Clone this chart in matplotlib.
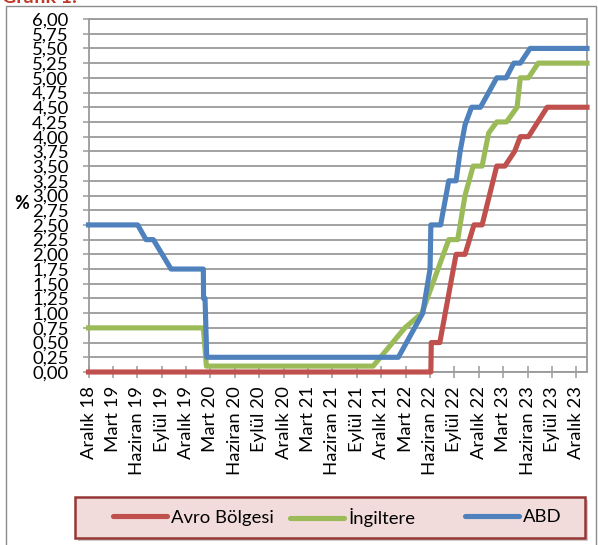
import matplotlib
matplotlib.use("Agg")
import matplotlib.pyplot as plt
from matplotlib.lines import Line2D
from matplotlib.patches import Rectangle

plt.rcParams['font.family'] = ['Lato', 'DejaVu Sans']

# x = ay sayisi (0 = Aralik 2018)
ay_etiket = ["Aralık 18", "Mart 19", "Haziran 19", "Eylül 19", "Aralık 19",
             "Mart 20", "Haziran 20", "Eylül 20", "Aralık 20", "Mart 21",
             "Haziran 21", "Eylül 21", "Aralık 21", "Mart 22", "Haziran 22",
             "Eylül 22", "Aralık 22", "Mart 23", "Haziran 23", "Eylül 23",
             "Aralık 23"]

avro_x = [0, 42.1, 42.15, 43.2, 45.2, 46.3, 47.4, 48.4, 50.2, 51.2, 52.4,
          53.1, 54.1, 56.4, 61.3]
avro_y = [0, 0, 0.5, 0.5, 2.0, 2.0, 2.5, 2.5, 3.5, 3.5, 3.75,
          4.0, 4.0, 4.5, 4.5]

ing_x = [0, 14.12, 14.5, 35.0, 38.9, 41.0, 44.3, 45.4, 46.3, 47.3, 48.4,
         49.2, 50.2, 51.4, 52.7, 53.1, 54.1, 55.3, 61.3]
ing_y = [0.75, 0.75, 0.1, 0.1, 0.75, 1.0, 2.25, 2.25, 3.0, 3.5, 3.5,
         4.06, 4.25, 4.25, 4.5, 5.0, 5.0, 5.25, 5.25]

abd_x = [0, 6.05, 7.07, 7.97, 10.15, 14.12, 14.15, 14.33, 14.54, 38.1, 41.1,
         42.0, 42.1, 43.3, 44.3, 45.2, 45.7, 46.3, 47.1, 48.2, 50.2, 51.35,
         52.3, 53.1, 54.3, 61.3]
abd_y = [2.5, 2.5, 2.25, 2.25, 1.75, 1.75, 1.25, 1.25, 0.25, 0.25, 1.0,
         1.75, 2.5, 2.5, 3.25, 3.25, 3.75, 4.2, 4.5, 4.5, 5.0, 5.0,
         5.25, 5.25, 5.5, 5.5]

renk_avro = "#C0504D"
renk_ing = "#9BBB59"
renk_abd = "#4F81BD"
gri = "#9A9A9A"
fs = 13.3

W, H = 598, 545
fig = plt.figure(figsize=(W / 100, H / 100), dpi=100)

# dis cerceve ve ustte kesik kalan baslik
fig.patches.append(Rectangle((6 / W, -0.02), 590 / W, 1 - 6 / H + 0.02,
                             transform=fig.transFigure, fill=False,
                             edgecolor="#8C8C8C", lw=1.0))
fig.text(2 / W, 1 - 3 / H, "Grafik 1:", color="#C0392B", fontsize=14,
         fontweight="bold", va="baseline", ha="left")

ax = fig.add_axes([88.5 / W, 1 - 372 / H, (587 - 88.5) / W, (372 - 19) / H])

lw = 3.7
ax.plot(avro_x, avro_y, color=renk_avro, lw=lw, clip_on=False, zorder=3)
ax.plot(ing_x, ing_y, color=renk_ing, lw=lw, clip_on=False, zorder=4)
ax.plot(abd_x, abd_y, color=renk_abd, lw=lw, clip_on=False, zorder=5)

ax.set_xlim(0, 61.3)
ax.set_ylim(0, 6)
yt = [i * 0.25 for i in range(25)]
ax.set_yticks(yt)
ax.set_yticklabels([f"{v:.2f}".replace(".", ",") for v in yt], fontsize=fs)
ax.set_xticks(range(0, 61, 3))
ax.set_xticklabels(ay_etiket, rotation=90, fontsize=fs)
ax.grid(axis="y", color=gri, lw=1.3)
ax.tick_params(axis="y", length=4.3, width=1.1, color=gri, pad=10)
ax.tick_params(axis="x", direction="inout", length=8.5, width=1.1,
               color=gri, pad=6)
for s in ax.spines.values():
    s.set_color(gri)
    s.set_linewidth(1.3)

fig.text(22 / W, 1 - 203 / H, "%", fontsize=13, fontweight="bold",
         ha="center", va="center")

# gosterge kutusu
fig.patches.append(Rectangle((78 / W, 1 - 541 / H), 510 / W, 41 / H,
                             transform=fig.transFigure, facecolor="#9A9A9A",
                             edgecolor="none", alpha=0.5, zorder=1))
fig.patches.append(Rectangle((75 / W, 1 - 538 / H), 510 / W, 41 / H,
                             transform=fig.transFigure, facecolor="#F2DCDB",
                             edgecolor="#953735", lw=1.8, zorder=2))
seriler = [("Avro Bölgesi", renk_avro, 113), ("İngiltere", renk_ing, 290),
           ("ABD", renk_abd, 465)]
for ad, renk, xp in seriler:
    h = Line2D([], [], color=renk, lw=lw, solid_capstyle="round")
    fig.legend(handles=[h], labels=[ad], loc="center left",
               bbox_to_anchor=(xp / W, 1 - 517.5 / H), frameon=False,
               fontsize=fs, handlelength=2.95, handletextpad=0.2,
               borderpad=0, borderaxespad=0)

fig.savefig("out.png", dpi=100)
